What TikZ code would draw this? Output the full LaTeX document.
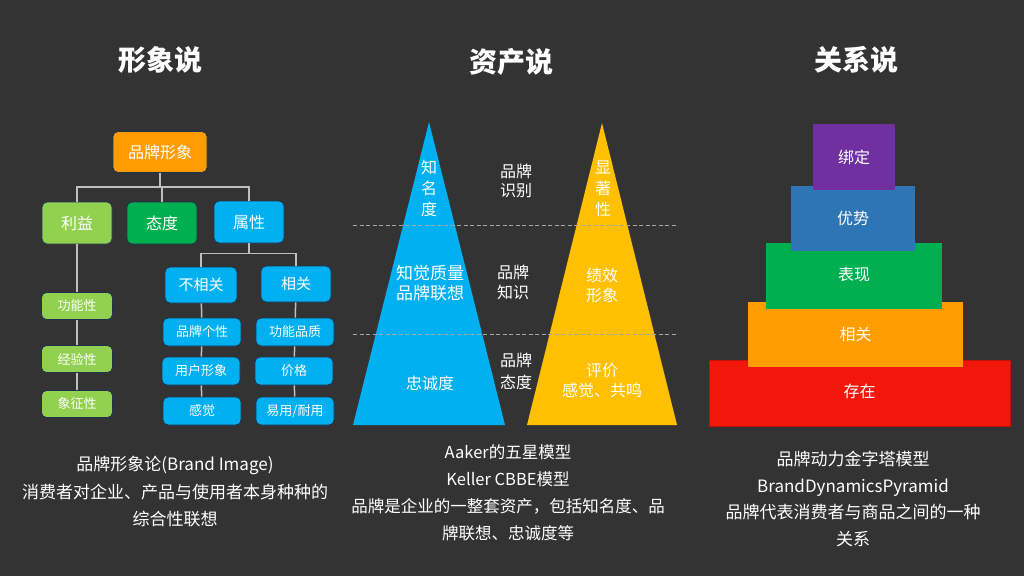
\documentclass[tikz,border=0pt]{standalone}
\usepackage{fontspec}
\setmainfont{Noto Sans CJK SC}
\usetikzlibrary{positioning}

\definecolor{bg}{HTML}{333333}
\definecolor{orng}{HTML}{FF9C00}
\definecolor{lgreen}{HTML}{92D050}
\definecolor{dgreen}{HTML}{00B050}
\definecolor{sky}{HTML}{00B0F0}
\definecolor{gold}{HTML}{FFC000}
\definecolor{purp}{HTML}{7030A0}
\definecolor{steel}{HTML}{2E75B6}
\definecolor{redd}{HTML}{F2170A}
\definecolor{wiregray}{HTML}{BFBFBF}
\definecolor{sepgray}{HTML}{A6A6A6}
\definecolor{edge}{HTML}{1F3350}

\begin{document}
\begin{tikzpicture}[x=1pt, y=-1pt,
    tbox/.style={draw=edge, line width=0.8pt, rounded corners=5pt, text=white, inner sep=0pt, minimum width=70pt, minimum height=42pt, font=\fontsize{16}{18}\selectfont},
    mbox/.style={tbox, minimum width=72pt, minimum height=36pt, font=\fontsize{15}{17}\selectfont},
    sbox/.style={tbox, minimum width=78pt, minimum height=28pt, font=\fontsize{13}{15}\selectfont},
    wire/.style={draw=wiregray, line width=1.5pt},
    sepline/.style={draw=sepgray, line width=1pt, dash pattern=on 4pt off 2.5pt},
    mtxt/.style={text=white, align=center, inner sep=0pt, font=\fontsize{16}{21}\selectfont},
    lvl/.style={inner sep=0pt, text=white, minimum height=66pt, font=\fontsize{16}{18}\selectfont},
    title/.style={text=white, font=\fontsize{28}{30}\selectfont\bfseries},
    note/.style={text=white, align=center, inner sep=0pt, font=\fontsize{17}{27.5}\selectfont}
]
\fill[bg] (0,0) rectangle (1024,576);

% titles
\node[title] (t1) at (160,60) {形象说};
\node[title] (t2) at (511,62) {资产说};
\node[title] (t3) at (856,60) {关系说};

% brand image tree
\node[tbox, fill=orng, minimum width=94pt, minimum height=41pt] (img) at (160,152) {品牌形象};
\node[tbox, fill=lgreen] (ben) at (77,223) {利益};
\node[tbox, fill=dgreen] (att) at (162,223) {态度};
\node[tbox, fill=sky] (attr) at (249,222) {属性};
\node[mbox, fill=sky] (unrel) at (201,285) {不相关};
\node[mbox, fill=sky, minimum width=70pt] (rel) at (296,284) {相关};
\node[sbox, fill=sky] (pers) at (202,332) {品牌个性};
\node[sbox, fill=sky] (user) at (201,371) {用户形象};
\node[sbox, fill=sky] (feel) at (202,411) {感觉};
\node[sbox, fill=sky] (qual) at (295,332) {功能品质};
\node[sbox, fill=sky] (price) at (294,371) {价格};
\node[sbox, fill=sky] (ease) at (295,411) {易用/耐用};
\node[sbox, fill=lgreen, minimum width=71pt, minimum height=27pt] (func) at (77,306) {功能性};
\node[sbox, fill=lgreen, minimum width=71pt, minimum height=27pt] (expr) at (77,359) {经验性};
\node[sbox, fill=lgreen, minimum width=71pt, minimum height=27pt] (symb) at (77,404) {象征性};

\draw[wire] (img.south) -- ++(0,14) -| (ben.north);
\draw[wire] (img.south) -- ++(0,14) -| (att.north);
\draw[wire] (img.south) -- ++(0,14) -| (attr.north);
\draw[wire] (attr.south) -- ++(0,10) -| (unrel.north);
\draw[wire] (attr.south) -- ++(0,10) -| (rel.north);
\draw[wire] (ben) -- (func) -- (expr) -- (symb);
\draw[wire] (unrel) -- (pers) -- (user) -- (feel);
\draw[wire] (rel) -- (qual) -- (price) -- (ease);

% asset triangles
\fill[sky] (353,425) -- (429,122) -- (505,425) -- cycle;
\fill[gold] (527,425) -- (602,123) -- (677,425) -- cycle;
\draw[sepline] (353,225) -- (678,225);
\draw[sepline] (353,334) -- (678,334);

\node[mtxt] (aware) at (429,188) {知\\名\\度};
\node[mtxt, font=\fontsize{16}{19}\selectfont] (ident) at (516,181) {品牌\\识别};
\node[mtxt] (salience) at (603,189) {显\\著\\性};
\node[mtxt, font=\fontsize{17}{20}\selectfont] (assoc) at (430,283) {知觉质量\\品牌联想};
\node[mtxt, font=\fontsize{16}{20}\selectfont] (know) at (513,282) {品牌\\知识};
\node[mtxt, font=\fontsize{16}{20}\selectfont] (perf) at (602,285) {绩效\\形象};
\node[mtxt] (loyal) at (430,383) {忠诚度};
\node[mtxt, font=\fontsize{16}{22}\selectfont] (attit) at (516,371) {品牌\\态度};
\node[mtxt, font=\fontsize{16}{20}\selectfont] (judge) at (602,380) {评价\\感觉、共鸣};

% brand dynamics pyramid
\node[lvl, fill=redd, draw=redd!80!black, minimum width=301pt] (exist) at (859.5,393) {\raisebox{5pt}{存在}};
\node[lvl, fill=orng, minimum width=215pt, minimum height=65pt] (relev) at (855.5,334.5) {\raisebox{1pt}{相关}};
\node[lvl, fill=dgreen, minimum width=176pt] (perfm) at (854,276) {\raisebox{4pt}{表现}};
\node[lvl, fill=steel, minimum width=124pt, minimum height=65pt] (adv) at (853,218.5) {\raisebox{2pt}{优势}};
\node[lvl, fill=purp, minimum width=82pt] (bond) at (854,157) {绑定};

% notes
\node[note] (n1) at (175,492) {品牌形象论(Brand Image)\\消费者对企业、产品与使用者本身种种的\\综合性联想};
\node[note, font=\fontsize{16.5}{27}\selectfont] (n2) at (508,492.5) {Aaker的五星模型\\Keller CBBE模型\\品牌是企业的一整套资产，包括知名度、品\\牌联想、忠诚度等};
\node[note, font=\fontsize{17}{26.5}\selectfont] (n3) at (853,499) {品牌动力金字塔模型\\BrandDynamicsPyramid\\品牌代表消费者与商品之间的一种\\关系};
\end{tikzpicture}
\end{document}
